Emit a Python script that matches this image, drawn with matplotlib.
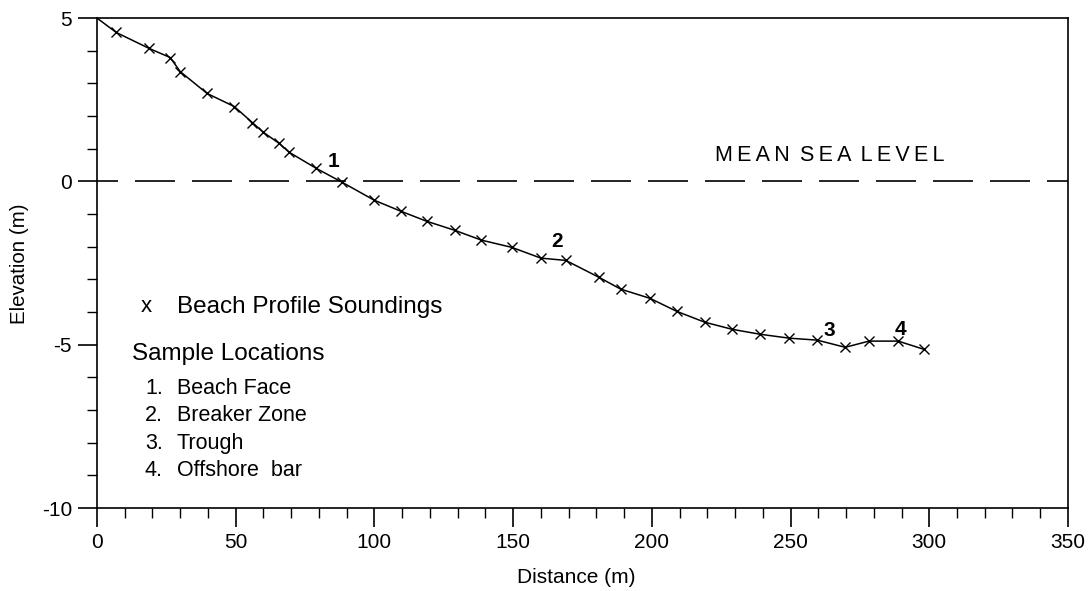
import matplotlib
matplotlib.use("Agg")
import matplotlib.pyplot as plt
from matplotlib.ticker import MultipleLocator

plt.rcParams["font.family"] = ["Liberation Sans", "DejaVu Sans"]
plt.rcParams["axes.unicode_minus"] = False

# beach profile soundings (distance m, elevation m); first point is the line start
distance = [0, 6.9, 18.8, 26.4, 30.0, 39.7, 49.5, 56.0, 60.0, 65.7, 69.3, 79.0,
            88.4, 100.0, 109.7, 118.8, 129.0, 138.6, 149.5, 160.0, 169.0, 181.0,
            188.8, 199.3, 209.0, 219.0, 229.0, 239.0, 249.5, 259.6, 269.7,
            278.3, 288.8, 298.0]
elevation = [5.0, 4.56, 4.07, 3.79, 3.36, 2.69, 2.29, 1.80, 1.50, 1.16, 0.89, 0.40,
             -0.03, -0.58, -0.92, -1.22, -1.50, -1.80, -2.02, -2.35, -2.42, -2.94,
             -3.30, -3.58, -3.98, -4.31, -4.53, -4.68, -4.80, -4.86, -5.08,
             -4.89, -4.89, -5.14]

sample_labels = ["1", "2", "3", "4"]
sample_x = [85.2, 166.0, 264.0, 289.5]
sample_y = [0.60, -1.85, -4.57, -4.53]

item_numbers = ["1.", "2.", "3.", "4."]
item_names = ["Beach Face", "Breaker Zone", "Trough", "Offshore  bar"]

fig = plt.figure(figsize=(10.92, 5.91), dpi=100)
ax = fig.add_axes([0.0888, 0.1404, 0.8892, 0.8291])

ax.axhline(0, color="black", lw=1.2, linestyle=(11.4, (24, 10.2)))

ax.plot(distance, elevation, color="black", lw=1.1,
        marker="x", markersize=7.5, markeredgewidth=1.0,
        markevery=list(range(1, len(distance))))

for lab, sx, sy in zip(sample_labels, sample_x, sample_y):
    ax.text(sx, sy, lab, fontsize=15, fontweight="bold", ha="center", va="center")

ts = "\u2009"
msl = (" " + ts).join(ts.join(w) for w in ["MEAN", "SEA", "LEVEL"])
ax.text(222.8, 0.8, msl, fontsize=15.5, ha="left", va="center")

ax.text(17.8, -3.84, "x", fontsize=16, ha="center", va="center")
ax.text(28.8, -3.84, "Beach Profile Soundings", fontsize=17.5, ha="left", va="center")
ax.text(12.6, -5.28, "Sample Locations", fontsize=17.5, ha="left", va="center")
for i, (num, name) in enumerate(zip(item_numbers, item_names)):
    yy = -6.34 - 0.835 * i
    ax.text(17.3, yy, num, fontsize=15.5, ha="left", va="center")
    ax.text(28.8, yy, name, fontsize=15.5, ha="left", va="center")

ax.set_xlim(0, 350)
ax.set_ylim(-10, 5)
ax.xaxis.set_major_locator(MultipleLocator(50))
ax.xaxis.set_minor_locator(MultipleLocator(10))
ax.yaxis.set_major_locator(MultipleLocator(5))
ax.yaxis.set_minor_locator(MultipleLocator(1))
ax.tick_params(which="major", direction="out", length=14, width=1.2,
               labelsize=15, pad=4)
ax.tick_params(which="minor", direction="out", length=7.5, width=1.0)
for s in ax.spines.values():
    s.set_linewidth(1.2)

ax.set_xlabel("Distance (m)", fontsize=15)
ax.set_ylabel("Elevation (m)", fontsize=14.8)
ax.xaxis.set_label_coords(0.494, -0.122)
ax.yaxis.set_label_coords(-0.070, 0.498)

fig.savefig("out.png", dpi=100)
